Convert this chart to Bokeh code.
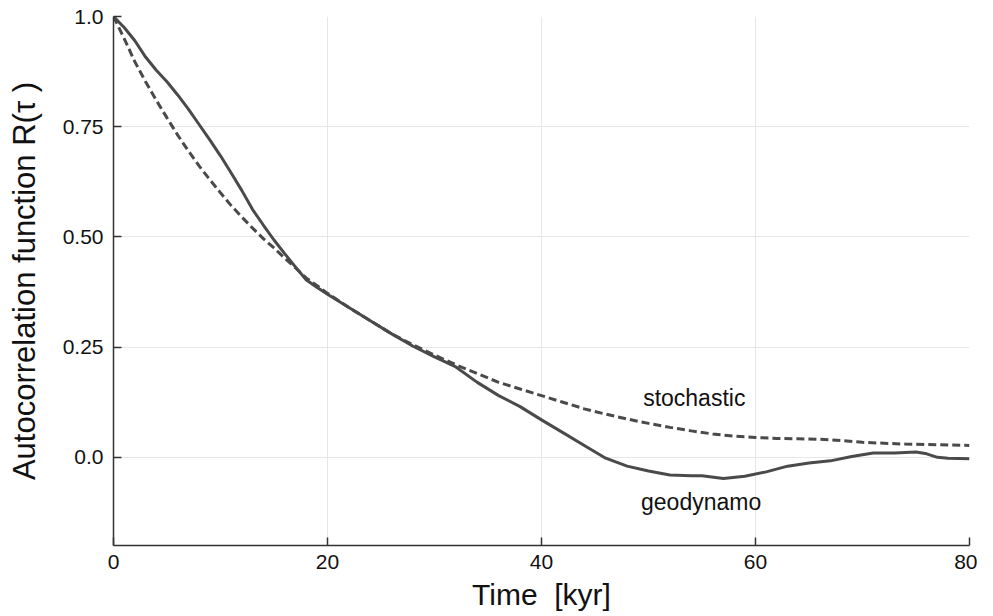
from bokeh.plotting import figure
from bokeh.models import Range1d, FixedTicker, Label
from bokeh.embed import file_html
from bokeh.resources import INLINE

# Data (time in kyr, autocorrelation)
t_geo = [0, 1, 2, 3, 4, 5, 6, 7, 8, 9, 10, 11, 12, 13, 14, 15, 16, 17, 18, 19, 20,
         22, 24, 26, 28, 30, 32, 34, 36, 38, 40, 42, 44, 46, 48, 50, 52, 54, 55,
         57, 59, 61, 63, 65, 67, 69, 71, 73, 75, 76, 77, 78, 80]
r_geo = [1.0, 0.975, 0.945, 0.908, 0.878, 0.852, 0.822, 0.79, 0.755, 0.72, 0.684,
         0.645, 0.605, 0.562, 0.527, 0.493, 0.462, 0.432, 0.403, 0.386, 0.37,
         0.34, 0.31, 0.28, 0.252, 0.228, 0.205, 0.17, 0.14, 0.115, 0.085, 0.056,
         0.027, -0.002, -0.02, -0.031, -0.04, -0.042, -0.042, -0.048, -0.043,
         -0.033, -0.02, -0.013, -0.008, 0.002, 0.01, 0.01, 0.012, 0.008, 0.0,
         -0.002, -0.003]

t_sto = [0, 1, 2, 3, 4, 5, 6, 7, 8, 9, 10, 11, 12, 13, 14, 15, 16, 17, 18, 19, 20,
         22, 24, 26, 28, 30, 32, 34, 36, 38, 40, 42, 44, 46, 48, 50, 52, 54, 56,
         58, 60, 62, 64, 66, 68, 70, 72, 74, 76, 78, 80]
r_sto = [1.0, 0.95, 0.897, 0.852, 0.81, 0.77, 0.731, 0.695, 0.661, 0.63, 0.6,
         0.571, 0.545, 0.52, 0.496, 0.475, 0.452, 0.43, 0.407, 0.39, 0.372,
         0.34, 0.31, 0.28, 0.255, 0.232, 0.21, 0.19, 0.17, 0.155, 0.14, 0.125,
         0.11, 0.098, 0.087, 0.077, 0.068, 0.06, 0.053, 0.048, 0.045, 0.043,
         0.042, 0.041, 0.038, 0.034, 0.032, 0.03, 0.029, 0.028, 0.027]

x_ticks = [0, 20, 40, 60, 80]
y_ticks = [0.0, 0.25, 0.5, 0.75, 1.0]
y_tick_labels = {0.0: "0.0", 0.25: "0.25", 0.5: "0.50", 0.75: "0.75", 1.0: "1.0"}

FONT = "Liberation Sans"
LINE_COLOR = "#4a4a4a"
TEXT_COLOR = "#111111"

p = figure(width=977, height=614, frame_width=856, frame_height=529,
           output_backend="svg", toolbar_location=None,
           x_range=Range1d(0, 80), y_range=Range1d(-0.2, 1.0),
           min_border_left=113, min_border_top=16, min_border_right=8,
           min_border_bottom=69)

p.outline_line_color = None
p.background_fill_color = "white"
p.border_fill_color = "white"

p.line(t_geo, r_geo, line_color=LINE_COLOR, line_width=3)
p.line(t_sto, r_sto, line_color=LINE_COLOR, line_width=3, line_dash="8 4")

for ax in (p.xaxis[0], p.yaxis[0]):
    ax.axis_line_color = "#333333"
    ax.axis_line_width = 1.5
    ax.major_tick_line_color = "#333333"
    ax.major_tick_line_width = 1.5
    ax.major_tick_in = 8
    ax.major_tick_out = 0
    ax.minor_tick_line_color = None
    ax.major_label_text_font = FONT
    ax.major_label_text_font_size = "21px"
    ax.major_label_text_color = TEXT_COLOR
    ax.axis_label_text_font = FONT
    ax.axis_label_text_font_style = "normal"
    ax.axis_label_text_color = TEXT_COLOR

p.xaxis.axis_label_text_font_size = "30px"
p.yaxis.axis_label_text_font_size = "31px"
p.xaxis.ticker = FixedTicker(ticks=x_ticks)
p.yaxis.ticker = FixedTicker(ticks=y_ticks)
p.yaxis.major_label_overrides = y_tick_labels
p.xaxis.axis_label = "Time\u00a0 [kyr]"
p.yaxis.axis_label = "Autocorrelation function R(\u03c4\u00a0)"
p.xaxis.major_label_standoff = 9
p.yaxis.major_label_standoff = 10
p.xaxis.axis_label_standoff = 6
p.yaxis.axis_label_standoff = 18

p.xgrid.ticker = FixedTicker(ticks=x_ticks)
p.ygrid.ticker = FixedTicker(ticks=y_ticks)
p.grid.grid_line_color = "#e6e6e6"
p.grid.grid_line_width = 1

p.add_layout(Label(x=49.5, y=0.134, text="stochastic", text_font=FONT,
                   text_font_size="23px", text_color=TEXT_COLOR,
                   text_baseline="middle", text_align="left"))
p.add_layout(Label(x=49.3, y=-0.102, text="geodynamo", text_font=FONT,
                   text_font_size="23px", text_color=TEXT_COLOR,
                   text_baseline="middle", text_align="left"))

open("out.html", "w").write(file_html(p, INLINE))
